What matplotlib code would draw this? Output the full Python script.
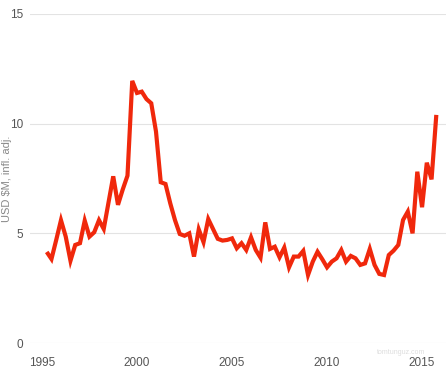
import numpy as np
import matplotlib.pyplot as plt

# Quarterly values, Q2 1995 to Q4 2015 (USD $M, inflation adjusted)
start_year = 1995.25
values = [
    4.15, 3.83, 4.7, 5.6, 4.85, 3.75, 4.47, 4.55, 5.58, 4.85,
    5.05, 5.6, 5.2, 6.4, 7.6, 6.3, 7.0, 7.63, 11.95, 11.4,
    11.46, 11.12, 10.93, 9.64, 7.33, 7.25, 6.37, 5.6, 4.97, 4.89,
    5.0, 3.94, 5.18, 4.6, 5.65, 5.2, 4.75, 4.67, 4.7, 4.77,
    4.32, 4.55, 4.24, 4.82, 4.24, 3.89, 5.5, 4.29, 4.39, 3.91,
    4.35, 3.45, 3.94, 3.94, 4.2, 3.1, 3.71, 4.16, 3.82, 3.45,
    3.71, 3.86, 4.24, 3.71, 3.97, 3.86, 3.56, 3.63, 4.29, 3.56,
    3.15, 3.1, 4.01, 4.21, 4.47, 5.61, 5.99, 5.0, 7.81, 6.19,
    8.22, 7.46, 10.4,
]
years = start_year + 0.25 * np.arange(len(values))

x_ticks = [1995, 2000, 2005, 2010, 2015]
y_ticks = [0, 5, 10, 15]

plt.rcParams["font.family"] = ["Liberation Sans Narrow", "Liberation Sans", "DejaVu Sans"]

fig = plt.figure(figsize=(4.46, 3.77), dpi=100)
ax = fig.add_axes([30 / 446, 1 - 343 / 377, 416 / 446, 329 / 377])

ax.plot(years, values, color="#f0280c", linewidth=3.0, solid_joinstyle="miter",
        solid_capstyle="butt", zorder=3)

ax.set_xlim(1994.37, 2016.26)
ax.set_ylim(0, 15)
ax.set_xticks(x_ticks)
ax.set_yticks(y_ticks)
ax.grid(axis="y", color="#e3e3e3", linewidth=0.8)
ax.set_axisbelow(True)
for s in ax.spines.values():
    s.set_visible(False)
ax.tick_params(axis="both", length=0, labelsize=8.5, colors="#555555")
ax.tick_params(axis="y", pad=5)
ax.tick_params(axis="x", pad=10)
ax.set_ylabel("USD $M, infl. adj.", fontsize=8, color="#888888", va="center")
ax.yaxis.set_label_coords(-23 / 416, 0.5)

fig.text(401 / 446, 1 - 352 / 377, "tomtunguz.com", fontsize=5, color="#dddddd",
         ha="center", va="center")

fig.savefig("out.png", dpi=100)
